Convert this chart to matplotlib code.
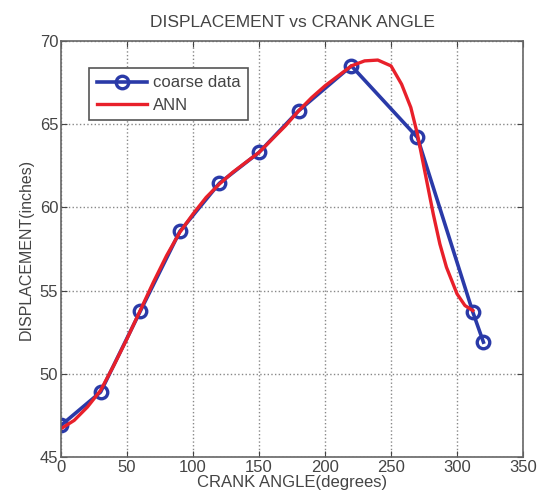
import matplotlib.pyplot as plt

plt.rcParams['font.family'] = ['Liberation Sans', 'DejaVu Sans']

# coarse data points
coarse_angle = [0, 30, 60, 90, 120, 150, 180, 220, 270, 312, 320]
coarse_disp = [46.9, 48.9, 53.75, 58.55, 61.45, 63.3, 65.8, 68.5, 64.2, 53.7, 51.9]

# ANN curve
ann_angle = [0, 10, 20, 30, 40, 50, 60, 70, 80, 90, 100, 110, 120, 130, 140, 150,
             160, 170, 180, 190, 200, 210, 220, 230, 240, 250, 258, 265, 270, 277,
             282, 287, 292, 300, 306, 312]
ann_disp = [46.7, 47.2, 48.0, 49.0, 50.5, 52.1, 53.8, 55.5, 57.1, 58.5, 59.6, 60.6,
            61.4, 62.1, 62.7, 63.3, 64.1, 64.9, 65.8, 66.6, 67.3, 67.9, 68.5, 68.8,
            68.85, 68.5, 67.4, 66.0, 64.4, 61.6, 59.6, 57.8, 56.4, 54.8, 54.1, 53.8]

xticks = [0, 50, 100, 150, 200, 250, 300, 350]
yticks = [45, 50, 55, 60, 65, 70]

txt = '#444444'
fig = plt.figure(figsize=(5.42, 4.99), dpi=100)
ax = fig.add_axes([0.1125, 0.0842, 0.8525, 0.8338])

ax.plot(coarse_angle, coarse_disp, color='#2a3aa8', lw=2.6, marker='o', ms=9,
        mfc='none', mew=2.4, label='coarse data')
ax.plot(ann_angle, ann_disp, color='#e8202a', lw=2.4, label='ANN')

ax.set_xlim(0, 350)
ax.set_ylim(45, 70)
ax.set_xticks(xticks)
ax.set_yticks(yticks)
ax.grid(True, linestyle=':', color='#888888', lw=1.0)
ax.tick_params(direction='in', top=True, right=True, labelsize=12, colors=txt, length=4, pad=2)
for s in ax.spines.values():
    s.set_color('#666666')
    s.set_linewidth(1.2)

ax.set_title('DISPLACEMENT vs CRANK ANGLE', fontsize=12.5, color=txt, pad=10)
ax.set_xlabel('CRANK ANGLE(degrees)', fontsize=12, color=txt, labelpad=0)
ax.set_ylabel('DISPLACEMENT(inches)', fontsize=11.5, color=txt, labelpad=4)

leg = ax.legend(loc='upper left', bbox_to_anchor=(0.061, 0.935), borderaxespad=0,
                fontsize=12, fancybox=False, framealpha=1, edgecolor='#555555',
                handlelength=3.0, borderpad=0.45, labelspacing=0.45, handletextpad=0.4)
leg.get_frame().set_linewidth(1.2)
for t in leg.get_texts():
    t.set_color(txt)

fig.savefig('out.png', dpi=100)
